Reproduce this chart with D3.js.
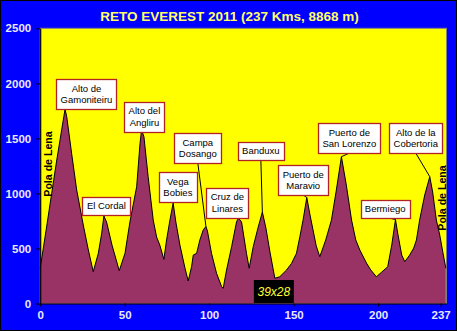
<!DOCTYPE html>
<html>
<head>
<meta charset="utf-8">
<script src="https://cdn.jsdelivr.net/npm/d3@7"></script>
<style>
  html, body { margin: 0; padding: 0; background: #fff; }
  svg { display: block; }
  text { font-family: "Liberation Sans", Arial, sans-serif; }
</style>
</head>
<body>
<svg id="chart" width="457" height="331"></svg>
<script>
// Route profile: distance (km) and altitude (m)
const km = [0, 3.7, 6.8, 9.8, 12.7, 14.7, 15.7, 18.6, 21.6, 25.5, 28.5, 31.4, 34.4, 36.4, 37.7,
  39.3, 42.5, 46.8, 50.2, 53.1, 57.1, 59.1, 60.0, 61.4, 63.9, 66.9, 68.9, 70.8, 73.2, 74.8,
  76.8, 78.7, 80.3, 82.7, 85.7, 87.6, 89.6, 90.6, 92.6, 94.5, 96.5, 98.1, 99.0, 101.4, 104.4,
  107.4, 108.3, 110.3, 113.3, 116.2, 117.3, 119.2, 122.1, 123.7, 126.1, 128.9, 131.5, 133.6,
  136.0, 138.9, 141.8, 145.8, 148.8, 151.7, 153.7, 155.6, 157.8, 159.6, 161.5, 163.4, 165.5,
  169.0, 172.4, 175.3, 178.3, 181.2, 184.3, 186.8, 189.2, 193.1, 195.7, 199.0, 202.2, 205.7,
  208.1, 210.3, 211.6, 214.0, 215.8, 218.7, 221.1, 222.7, 224.6, 227.6, 230.6, 232.3, 234.5,
  236.5, 238.3, 240.1];
const elevation = [320, 686, 1001, 1303, 1576, 1765, 1697, 1364, 1031, 713, 486, 289, 456, 638, 795,
  740, 531, 298, 456, 740, 1061, 1455, 1576, 1515, 1152, 758, 604, 531, 401, 577,
  758, 913, 740, 531, 322, 204, 334, 440, 456, 577, 668, 700, 658, 456, 274,
  153, 138, 304, 516, 740, 777, 740, 456, 320, 516, 686, 831, 686,
  468, 229, 243, 304, 365, 456, 607, 758, 963, 813, 668, 522, 425,
  577, 758, 1031, 1333, 1076, 758, 577, 486, 368, 304, 243, 286, 334,
  531, 763, 640, 440, 380, 440, 504, 577, 758, 985, 1152, 1013, 758,
  622, 468, 320];

// Axis ticks
const xTickValues = [0, 50, 100, 150, 200, 237];
const xTickLabels = ["0", "50", "100", "150", "200", "237"];
const yTickValues = [0, 500, 1000, 1500, 2000, 2500];

// Mountain passes: name lines, km of the summit, label anchor (km, m)
const passNames = [
  ["Alto de", "Gamoniteiru"], ["El Cordal"], ["Alto del", "Angliru"], ["Vega", "Bobies"],
  ["Campa", "Dosango"], ["Cruz de", "Linares"], ["Banduxu"], ["Puerto de", "Maravio"],
  ["Puerto de", "San Lorenzo"], ["Bermiego"], ["Alto de la", "Cobertoria"]
];
const passKm = [14.7, 37.7, 60.0, 78.7, 98.1, 117.3, 131.5, 157.8, 178.3, 210.3, 230.6];
const labelKm = [27.4, 39.2, 61.7, 81.5, 93.3, 110.8, 130.6, 155.7, 183.0, 204.2, 222.3];
const labelElev = [1903, 890, 1698, 1058, 1412, 916, 1390, 1122, 1503, 863, 1503];

const titleText = "RETO EVEREST 2011 (237 Kms, 8868 m)";
const townName = "Pola de Lena";
const badgeText = "39x28";
const badgeKm = 138.3;

const W = 457, H = 331;
const svg = d3.select("#chart");

// Outer frame
svg.append("rect").attr("x", 0.5).attr("y", 0.5).attr("width", W - 1).attr("height", H - 1)
  .attr("fill", "#0000FF").attr("stroke", "#000").attr("stroke-width", 1);

const x = d3.scaleLinear().domain([0, 240.5]).range([40.2, 446.5]);
const y = d3.scaleLinear().domain([0, 2500]).range([303.5, 28.3]);

// Plot area
svg.append("rect")
  .attr("x", x(0)).attr("y", y(2500))
  .attr("width", x(240.5) - x(0)).attr("height", y(0) - y(2500))
  .attr("fill", "#FFFF00").attr("stroke", "#808080").attr("stroke-width", 1);

const profile = km.map((k, i) => ({ km: k, elev: elevation[i] }));

svg.append("path").datum(profile)
  .attr("d", d3.area().x(d => x(d.km)).y0(y(0)).y1(d => y(d.elev)))
  .attr("fill", "#993366");
svg.append("path").datum(profile)
  .attr("d", d3.line().x(d => x(d.km)).y(d => y(d.elev)))
  .attr("fill", "none").attr("stroke", "#000").attr("stroke-width", 1);

// Axes
const tickColor = "#E8E8FF";
const yAxis = svg.append("g").attr("transform", `translate(${x(0)},0)`)
  .call(d3.axisLeft(y).tickValues(yTickValues).tickSize(4).tickSizeOuter(0).tickPadding(5)
    .tickFormat(d3.format("d")));
const xAxis = svg.append("g").attr("transform", `translate(0,${y(0)})`)
  .call(d3.axisBottom(x).tickValues(xTickValues).tickSize(3).tickSizeOuter(0).tickPadding(4)
    .tickFormat((d, i) => xTickLabels[i]));
[yAxis, xAxis].forEach(g => {
  g.select(".domain").attr("stroke", "#000").attr("stroke-width", 1.2);
  g.selectAll(".tick line").attr("stroke", "#000");
  g.selectAll(".tick text").attr("fill", tickColor)
    .style("font-family", "'Liberation Sans', Arial, sans-serif")
    .style("font-size", "11.5px").style("font-weight", "bold");
});

// Title
svg.append("text").attr("x", 229.5).attr("y", 21).attr("text-anchor", "middle")
  .attr("fill", "#FFFF66").style("font-size", "13.5px").style("font-weight", "bold")
  .text(titleText);

// Start / finish town
svg.append("text")
  .attr("transform", `translate(${x(0) + 11.5},${164}) rotate(-90)`)
  .attr("text-anchor", "middle").style("font-size", "10.6px").style("font-weight", "bold")
  .attr("fill", "#000").text(townName);
svg.append("text")
  .attr("transform", `translate(${x(237) + 5},${198}) rotate(-90)`)
  .attr("text-anchor", "middle").style("font-size", "10.6px").style("font-weight", "bold")
  .attr("fill", "#000").text(townName);

// Pass labels with leader lines
const elevAt = k => elevation[km.indexOf(k)];
const lineH = 11.5;
passNames.forEach((lines, i) => {
  const cx = x(labelKm[i]), cy = y(labelElev[i]);
  const g = svg.append("g");
  const t = g.append("text").attr("text-anchor", "middle").attr("fill", "#000")
    .style("font-size", "9.5px");
  lines.forEach((ln, j) => {
    t.append("tspan").attr("x", cx)
      .attr("y", cy + (j - (lines.length - 1) / 2) * lineH + 3.4).text(ln);
  });
  const w = Math.ceil(d3.max(t.selectAll("tspan").nodes(), n => n.getComputedTextLength())) + 8;
  const h = lines.length * lineH + (lines.length > 1 ? 7 : 6);
  const bottom = cy + h / 2;
  const px = x(passKm[i]), py = y(elevAt(passKm[i]));
  if (py > bottom + 1) {
    g.insert("line", "text").attr("x1", cx).attr("y1", bottom).attr("x2", px).attr("y2", py)
      .attr("stroke", "#000").attr("stroke-width", 1);
  }
  g.insert("rect", "text")
    .attr("x", Math.round(cx - w / 2) + 0.5).attr("y", Math.round(cy - h / 2) + 0.5)
    .attr("width", w).attr("height", Math.round(h))
    .attr("fill", "#FFFFFF").attr("stroke", "#B22222").attr("stroke-width", 1.3);
});

// Badge near the axis
const bx = x(badgeKm);
svg.append("rect").attr("x", bx - 20).attr("y", 280).attr("width", 40).attr("height", 23)
  .attr("fill", "#000");
svg.append("text").attr("x", bx).attr("y", 295.5).attr("text-anchor", "middle")
  .attr("fill", "#FFFF33").style("font-size", "12px").style("font-style", "italic")
  .text(badgeText);
</script>
</body>
</html>
